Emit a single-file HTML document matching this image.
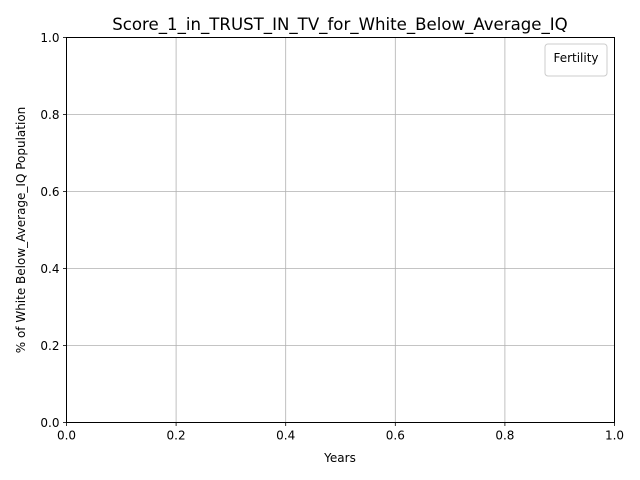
<!DOCTYPE html>
<html><head><meta charset="utf-8"><style>
body{margin:0;background:#fff;}
svg{display:block;font-family:"DejaVu Sans","Liberation Sans",sans-serif;}
</style></head><body>
<svg id="chart" width="640" height="480" xmlns="http://www.w3.org/2000/svg">
<rect width="640" height="480" fill="#fff"/>
<g id="grid"></g>
<g id="ticks"></g>
<rect x="66.5" y="37.5" width="548" height="385" fill="none" stroke="#000" stroke-width="1"/>
<text x="340" y="30" text-anchor="middle" font-size="16.6">Score_1_in_TRUST_IN_TV_for_White_Below_Average_IQ</text>
<text x="340" y="462" text-anchor="middle" font-size="12">Years</text>
<text transform="translate(25,230) rotate(-90)" text-anchor="middle" font-size="12">% of White Below_Average_IQ Population</text>
<g>
<rect x="545" y="44" width="62" height="32" rx="3" fill="#fff" stroke="#ccc"/>
<text x="576" y="62" text-anchor="middle" font-size="12">Fertility</text>
</g>
</svg>
<script>
const xTicks=[0.0,0.2,0.4,0.6,0.8,1.0];
const yTicks=[0.0,0.2,0.4,0.6,0.8,1.0];
const xMin=0,xMax=1,yMin=0,yMax=1;
const L=66.5,R=614.5,T=37.5,B=422.5;
function xs(v){return L+(v-xMin)/(xMax-xMin)*(R-L);}
function ys(v){return B-(v-yMin)/(yMax-yMin)*(B-T);}
const NS="http://www.w3.org/2000/svg";
const grid=document.getElementById('grid'),ticks=document.getElementById('ticks');
function mk(tag,attrs,parent){const e=document.createElementNS(NS,tag);for(const k in attrs)e.setAttribute(k,attrs[k]);parent.appendChild(e);return e;}
xTicks.forEach(v=>{
  const x=xs(v);
  const g=mk('line',{x1:x,x2:x,y1:T,y2:B,stroke:'#b0b0b0','stroke-width':0.8},grid);
  
  
  const t=mk('line',{x1:x,x2:x,y1:B,y2:B+3.5,stroke:'#000','stroke-width':0.8},ticks);
  
  
  const l=mk('text',{x:x,y:B+17,'text-anchor':'middle','font-size':12},ticks);
  l.textContent=v.toFixed(1);
  
  
});
yTicks.forEach(v=>{
  const y=ys(v);
  const g=mk('line',{x1:L,x2:R,y1:y,y2:y,stroke:'#b0b0b0','stroke-width':0.8},grid);
  
  
  const t=mk('line',{x1:L-3.5,x2:L,y1:y,y2:y,stroke:'#000','stroke-width':0.8},ticks);
  
  
  const l=mk('text',{x:L-7,y:y+4.5,'text-anchor':'end','font-size':12},ticks);
  l.textContent=v.toFixed(1);
  
  
});
</script>
</body></html>
